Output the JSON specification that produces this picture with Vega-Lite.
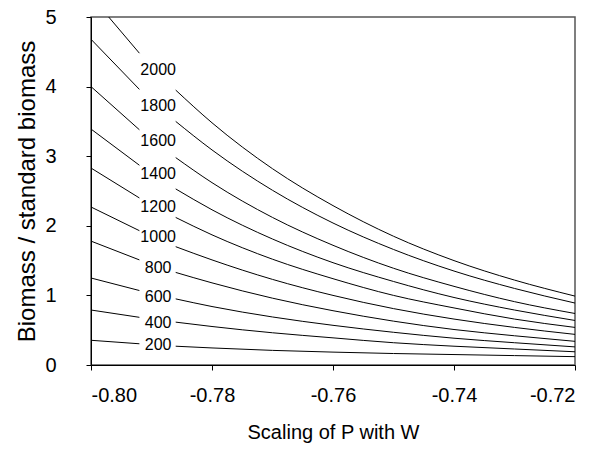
{
  "$schema": "https://vega.github.io/schema/vega-lite/v6.json",
  "width": 484,
  "height": 348,
  "autosize": {"type": "none"},
  "padding": {"left": 91, "top": 17, "right": 30, "bottom": 89},
  "background": "white",
  "config": {
    "font": "Liberation Sans",
    "view": {"stroke": "#555", "strokeWidth": 1.5},
    "axis": {
      "domainColor": "black",
      "tickColor": "black",
      "labelColor": "black",
      "titleColor": "black",
      "labelFont": "Liberation Sans",
      "titleFont": "Liberation Sans",
      "labelFontSize": 20,
      "titleFontSize": 20,
      "titleFontWeight": "normal",
      "tickSize": 5,
      "grid": false
    }
  },
  "datasets": {
    "curves": [
      {"level": 2000, "seg": "a", "x": -0.8, "y": 5.3},
      {"level": 2000, "seg": "a", "x": -0.792, "y": 4.48},
      {"level": 2000, "seg": "b", "x": -0.786, "y": 3.95},
      {"level": 2000, "seg": "b", "x": -0.78, "y": 3.48},
      {"level": 2000, "seg": "b", "x": -0.77, "y": 2.82},
      {"level": 2000, "seg": "b", "x": -0.76, "y": 2.29},
      {"level": 2000, "seg": "b", "x": -0.75, "y": 1.85},
      {"level": 2000, "seg": "b", "x": -0.74, "y": 1.5},
      {"level": 2000, "seg": "b", "x": -0.73, "y": 1.22},
      {"level": 2000, "seg": "b", "x": -0.72, "y": 0.99},
      {"level": 1800, "seg": "a", "x": -0.8, "y": 4.68},
      {"level": 1800, "seg": "a", "x": -0.792, "y": 3.96},
      {"level": 1800, "seg": "b", "x": -0.786, "y": 3.5},
      {"level": 1800, "seg": "b", "x": -0.78, "y": 3.09},
      {"level": 1800, "seg": "b", "x": -0.77, "y": 2.51},
      {"level": 1800, "seg": "b", "x": -0.76, "y": 2.04},
      {"level": 1800, "seg": "b", "x": -0.75, "y": 1.66},
      {"level": 1800, "seg": "b", "x": -0.74, "y": 1.35},
      {"level": 1800, "seg": "b", "x": -0.73, "y": 1.1},
      {"level": 1800, "seg": "b", "x": -0.72, "y": 0.89},
      {"level": 1600, "seg": "a", "x": -0.8, "y": 4.0},
      {"level": 1600, "seg": "a", "x": -0.792, "y": 3.38},
      {"level": 1600, "seg": "b", "x": -0.786, "y": 2.98},
      {"level": 1600, "seg": "b", "x": -0.78, "y": 2.62},
      {"level": 1600, "seg": "b", "x": -0.77, "y": 2.12},
      {"level": 1600, "seg": "b", "x": -0.76, "y": 1.72},
      {"level": 1600, "seg": "b", "x": -0.75, "y": 1.39},
      {"level": 1600, "seg": "b", "x": -0.74, "y": 1.13},
      {"level": 1600, "seg": "b", "x": -0.73, "y": 0.91},
      {"level": 1600, "seg": "b", "x": -0.72, "y": 0.74},
      {"level": 1400, "seg": "a", "x": -0.8, "y": 3.39},
      {"level": 1400, "seg": "a", "x": -0.792, "y": 2.87},
      {"level": 1400, "seg": "b", "x": -0.786, "y": 2.53},
      {"level": 1400, "seg": "b", "x": -0.78, "y": 2.23},
      {"level": 1400, "seg": "b", "x": -0.77, "y": 1.81},
      {"level": 1400, "seg": "b", "x": -0.76, "y": 1.47},
      {"level": 1400, "seg": "b", "x": -0.75, "y": 1.2},
      {"level": 1400, "seg": "b", "x": -0.74, "y": 0.97},
      {"level": 1400, "seg": "b", "x": -0.73, "y": 0.79},
      {"level": 1400, "seg": "b", "x": -0.72, "y": 0.64},
      {"level": 1200, "seg": "a", "x": -0.8, "y": 2.83},
      {"level": 1200, "seg": "a", "x": -0.792, "y": 2.4},
      {"level": 1200, "seg": "b", "x": -0.786, "y": 2.12},
      {"level": 1200, "seg": "b", "x": -0.78, "y": 1.87},
      {"level": 1200, "seg": "b", "x": -0.77, "y": 1.52},
      {"level": 1200, "seg": "b", "x": -0.76, "y": 1.24},
      {"level": 1200, "seg": "b", "x": -0.75, "y": 1.0},
      {"level": 1200, "seg": "b", "x": -0.74, "y": 0.82},
      {"level": 1200, "seg": "b", "x": -0.73, "y": 0.66},
      {"level": 1200, "seg": "b", "x": -0.72, "y": 0.54},
      {"level": 1000, "seg": "a", "x": -0.8, "y": 2.27},
      {"level": 1000, "seg": "a", "x": -0.792, "y": 1.93},
      {"level": 1000, "seg": "b", "x": -0.786, "y": 1.7},
      {"level": 1000, "seg": "b", "x": -0.78, "y": 1.51},
      {"level": 1000, "seg": "b", "x": -0.77, "y": 1.23},
      {"level": 1000, "seg": "b", "x": -0.76, "y": 1.0},
      {"level": 1000, "seg": "b", "x": -0.75, "y": 0.81},
      {"level": 1000, "seg": "b", "x": -0.74, "y": 0.66},
      {"level": 1000, "seg": "b", "x": -0.73, "y": 0.54},
      {"level": 1000, "seg": "b", "x": -0.72, "y": 0.44},
      {"level": 800, "seg": "a", "x": -0.8, "y": 1.78},
      {"level": 800, "seg": "a", "x": -0.792, "y": 1.51},
      {"level": 800, "seg": "b", "x": -0.786, "y": 1.33},
      {"level": 800, "seg": "b", "x": -0.78, "y": 1.18},
      {"level": 800, "seg": "b", "x": -0.77, "y": 0.96},
      {"level": 800, "seg": "b", "x": -0.76, "y": 0.78},
      {"level": 800, "seg": "b", "x": -0.75, "y": 0.63},
      {"level": 800, "seg": "b", "x": -0.74, "y": 0.51},
      {"level": 800, "seg": "b", "x": -0.73, "y": 0.42},
      {"level": 800, "seg": "b", "x": -0.72, "y": 0.34},
      {"level": 600, "seg": "a", "x": -0.8, "y": 1.25},
      {"level": 600, "seg": "a", "x": -0.792, "y": 1.07},
      {"level": 600, "seg": "b", "x": -0.786, "y": 0.95},
      {"level": 600, "seg": "b", "x": -0.78, "y": 0.84},
      {"level": 600, "seg": "b", "x": -0.77, "y": 0.69},
      {"level": 600, "seg": "b", "x": -0.76, "y": 0.57},
      {"level": 600, "seg": "b", "x": -0.75, "y": 0.47},
      {"level": 600, "seg": "b", "x": -0.74, "y": 0.385},
      {"level": 600, "seg": "b", "x": -0.73, "y": 0.32},
      {"level": 600, "seg": "b", "x": -0.72, "y": 0.26},
      {"level": 400, "seg": "a", "x": -0.8, "y": 0.79},
      {"level": 400, "seg": "a", "x": -0.792, "y": 0.685},
      {"level": 400, "seg": "b", "x": -0.786, "y": 0.616},
      {"level": 400, "seg": "b", "x": -0.78, "y": 0.553},
      {"level": 400, "seg": "b", "x": -0.77, "y": 0.463},
      {"level": 400, "seg": "b", "x": -0.76, "y": 0.39},
      {"level": 400, "seg": "b", "x": -0.75, "y": 0.32},
      {"level": 400, "seg": "b", "x": -0.74, "y": 0.27},
      {"level": 400, "seg": "b", "x": -0.73, "y": 0.23},
      {"level": 400, "seg": "b", "x": -0.72, "y": 0.19},
      {"level": 200, "seg": "a", "x": -0.8, "y": 0.355},
      {"level": 200, "seg": "a", "x": -0.792, "y": 0.305},
      {"level": 200, "seg": "b", "x": -0.786, "y": 0.27},
      {"level": 200, "seg": "b", "x": -0.78, "y": 0.245},
      {"level": 200, "seg": "b", "x": -0.77, "y": 0.21},
      {"level": 200, "seg": "b", "x": -0.76, "y": 0.185},
      {"level": 200, "seg": "b", "x": -0.75, "y": 0.165},
      {"level": 200, "seg": "b", "x": -0.74, "y": 0.15},
      {"level": 200, "seg": "b", "x": -0.73, "y": 0.135},
      {"level": 200, "seg": "b", "x": -0.72, "y": 0.12}
    ],
    "labels": [
      {"level": 2000, "x": -0.7889, "y": 4.24},
      {"level": 1800, "x": -0.7889, "y": 3.72},
      {"level": 1600, "x": -0.7889, "y": 3.22},
      {"level": 1400, "x": -0.7889, "y": 2.74},
      {"level": 1200, "x": -0.7889, "y": 2.27},
      {"level": 1000, "x": -0.7889, "y": 1.84},
      {"level": 800, "x": -0.7889, "y": 1.39},
      {"level": 600, "x": -0.7889, "y": 0.98},
      {"level": 400, "x": -0.7889, "y": 0.6},
      {"level": 200, "x": -0.7889, "y": 0.29}
    ]
  },
  "layer": [
    {
      "data": {"name": "curves"},
      "mark": {"type": "line", "color": "black", "strokeWidth": 1, "clip": true, "interpolate": "monotone"},
      "encoding": {
        "x": {
          "field": "x", "type": "quantitative",
          "scale": {"domain": [-0.8, -0.72], "nice": false, "zero": false},
          "axis": {"values": [-0.8, -0.78, -0.76, -0.74, -0.72], "labelExpr": "'-' + format(-datum.value, '.2f')", "labelPadding": 15, "title": "Scaling of P with W", "titlePadding": 17}
        },
        "y": {
          "field": "y", "type": "quantitative",
          "scale": {"domain": [0, 5], "nice": false},
          "axis": {"values": [0, 1, 2, 3, 4, 5], "format": "d", "labelPadding": 30, "title": "Biomass / standard biomass", "titleFontSize": 24, "titlePadding": 5}
        },
        "detail": [{"field": "level"}, {"field": "seg"}],
        "order": {"field": "x", "type": "quantitative"}
      }
    },
    {
      "data": {"name": "labels"},
      "mark": {"type": "text", "fontSize": 16, "font": "Liberation Sans", "color": "black", "align": "center", "baseline": "middle"},
      "encoding": {
        "x": {"field": "x", "type": "quantitative"},
        "y": {"field": "y", "type": "quantitative"},
        "text": {"field": "level", "type": "nominal"}
      }
    }
  ]
}
